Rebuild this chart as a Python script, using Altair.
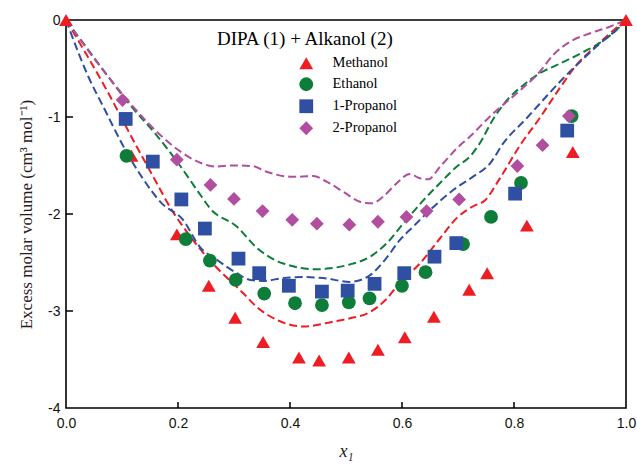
import altair as alt
import pandas as pd

# ---------------- data ----------------
series_names = ["Methanol", "Ethanol", "1-Propanol", "2-Propanol"]
series_colors = ["#EE1D23", "#0E7D3A", "#2F4FA2", "#B24E9F"]
series_shapes = ["triangle-up", "circle", "square", "diamond"]

# experimental points
meth_x = [0, 0.117, 0.198, 0.255, 0.302, 0.352, 0.416, 0.452, 0.505, 0.557, 0.605, 0.657, 0.720, 0.752, 0.823, 0.905, 1.0]
meth_y = [0, -1.40, -2.21, -2.74, -3.07, -3.32, -3.48, -3.51, -3.48, -3.40, -3.27, -3.06, -2.78, -2.61, -2.12, -1.36, 0]

eth_x = [0.108, 0.214, 0.257, 0.303, 0.354, 0.409, 0.457, 0.505, 0.542, 0.600, 0.642, 0.709, 0.759, 0.8125, 0.903]
eth_y = [-1.40, -2.26, -2.48, -2.68, -2.82, -2.92, -2.94, -2.91, -2.87, -2.74, -2.60, -2.31, -2.03, -1.68, -0.99]

prop1_x = [0.1066, 0.155, 0.206, 0.248, 0.308, 0.345, 0.398, 0.457, 0.503, 0.551, 0.604, 0.658, 0.697, 0.802, 0.895]
prop1_y = [-1.02, -1.46, -1.85, -2.15, -2.46, -2.61, -2.74, -2.80, -2.79, -2.72, -2.61, -2.44, -2.30, -1.79, -1.14]

prop2_x = [0.101, 0.198, 0.258, 0.300, 0.351, 0.404, 0.448, 0.506, 0.557, 0.608, 0.644, 0.702, 0.806, 0.851, 0.898]
prop2_y = [-0.825, -1.44, -1.70, -1.845, -1.97, -2.06, -2.10, -2.11, -2.08, -2.03, -1.97, -1.85, -1.505, -1.29, -0.99]

# model curves (dashed)
meth_lx = [0, 0.0696, 0.123, 0.159, 0.189, 0.209, 0.251, 0.317, 0.341, 0.376, 0.424, 0.477, 0.507, 0.543, 0.570,
           0.596, 0.632, 0.668, 0.698, 0.727, 0.748, 0.775, 0.811, 0.846, 0.882, 0.912, 0.942, 0.971, 1.0]
meth_ly = [0, -0.69, -1.27, -1.65, -1.96, -2.13, -2.44, -2.82, -2.96, -3.09, -3.16, -3.11, -3.075, -3.01, -2.89,
           -2.71, -2.51, -2.25, -2.04, -1.92, -1.86, -1.63, -1.29, -1.01, -0.70, -0.46, -0.29, -0.14, 0]

eth_lx = [0, 0.040, 0.0755, 0.117, 0.159, 0.2005, 0.242, 0.257, 0.305, 0.341, 0.388, 0.448, 0.471, 0.507, 0.543,
          0.573, 0.602, 0.638, 0.668, 0.698, 0.721, 0.739, 0.763, 0.787, 0.817, 0.846, 0.882, 0.924, 0.960, 0.989, 1.0]
eth_ly = [0, -0.31, -0.585, -0.894, -1.168, -1.477, -1.82, -1.94, -2.13, -2.35, -2.51, -2.57, -2.56, -2.52, -2.44,
          -2.30, -2.10, -1.86, -1.68, -1.51, -1.41, -1.27, -1.02, -0.83, -0.67, -0.55, -0.45, -0.33, -0.21, -0.07, 0]

prop1_lx = [0, 0.040, 0.0696, 0.0995, 0.135, 0.171, 0.209, 0.239, 0.269, 0.305, 0.329, 0.352, 0.388, 0.424, 0.459,
            0.507, 0.543, 0.570, 0.596, 0.620, 0.650, 0.692, 0.727, 0.757, 0.781, 0.823, 0.852, 0.882, 0.918, 0.954, 0.983, 1.0]
prop1_ly = [0, -0.585, -0.928, -1.27, -1.615, -1.89, -2.06, -2.34, -2.47, -2.61, -2.68, -2.69, -2.66, -2.65, -2.66,
            -2.70, -2.63, -2.47, -2.27, -2.13, -1.96, -1.75, -1.615, -1.48, -1.27, -1.01, -0.825, -0.636, -0.43, -0.24, -0.10, 0]

prop2_lx = [0, 0.052, 0.0995, 0.147, 0.2005, 0.242, 0.266, 0.296, 0.332, 0.358, 0.40, 0.418, 0.4416, 0.4655, 0.495,
            0.525, 0.546, 0.5666, 0.5905, 0.614, 0.632, 0.647, 0.668, 0.698, 0.721, 0.763, 0.805, 0.846, 0.870, 0.90,
            0.936, 0.971, 1.0]
prop2_ly = [0, -0.41, -0.756, -1.065, -1.34, -1.477, -1.51, -1.50, -1.505, -1.564, -1.615, -1.615, -1.608, -1.667, -1.77,
            -1.873, -1.89, -1.82, -1.683, -1.588, -1.632, -1.642, -1.512, -1.323, -1.203, -0.962, -0.756, -0.533, -0.361, -0.224,
            -0.137, -0.069, 0]

x_ticks = [0.0, 0.2, 0.4, 0.6, 0.8, 1.0]
y_ticks = [0, -1, -2, -3, -4]
x_inner_ticks = [0.2, 0.4, 0.6, 0.8]
y_inner_ticks = [-1, -2, -3]

# ---------------- tables ----------------
pts = []
for name, xs, ys in zip(series_names, [meth_x, eth_x, prop1_x, prop2_x], [meth_y, eth_y, prop1_y, prop2_y]):
    for a, b in zip(xs, ys):
        pts.append({"x": a, "y": b, "series": name})
pts_df = pd.DataFrame(pts)

lines = []
for name, xs, ys in zip(series_names, [meth_lx, eth_lx, prop1_lx, prop2_lx], [meth_ly, eth_ly, prop1_ly, prop2_ly]):
    for i, (a, b) in enumerate(zip(xs, ys)):
        lines.append({"x": a, "y": b, "series": name, "order": i})
lines_df = pd.DataFrame(lines)

xt_df = pd.DataFrame({"x": x_inner_ticks})
yt_df = pd.DataFrame({"y": y_inner_ticks})

W, H = 560, 388

x_enc = alt.X(
    "x:Q",
    scale=alt.Scale(domain=[0, 1], nice=False, zero=False),
    axis=alt.Axis(
        values=x_ticks, labelExpr="format(datum.value, '.1f')",
        title="x₁", titleFont="Liberation Serif", titleFontStyle="italic",
        titleFontSize=18, titleFontWeight="normal", titleColor="#222",
        titlePadding=12, ticks=False, domain=False, grid=False,
        labelFont="Liberation Sans", labelFontSize=14, labelColor="#111",
        labelPadding=8, labelFlush=False, labelOverlap=False,
    ),
)
y_enc = alt.Y(
    "y:Q",
    scale=alt.Scale(domain=[-4, 0], nice=False, zero=False),
    axis=alt.Axis(
        values=y_ticks, labelExpr="toString(datum.value)",
        title="Excess molar volume (cm³ mol⁻¹)", titleFont="Liberation Serif",
        titleFontSize=17, titleFontWeight="normal", titleColor="#2a1a1e",
        titlePadding=12, ticks=False, domain=False, grid=False,
        labelFont="Liberation Sans", labelFontSize=14, labelColor="#111",
        labelPadding=6, labelFlush=False, labelOverlap=False,
    ),
)

# dashed model curves: one layer per series, fixed colour (no colour scale)
line_layers = []
for k, (name, col) in enumerate(zip(series_names, series_colors)):
    line_layers.append(
        alt.Chart(lines_df).transform_filter(alt.datum.series == name)
        .mark_line(color=col, strokeWidth=2, strokeDash=[8, 4], interpolate="monotone")
        .encode(x=x_enc if k == 0 else "x:Q", y=y_enc if k == 0 else "y:Q", order="order:Q")
    )

legend = alt.Legend(
    title="DIPA (1) + Alkanol (2)", orient="none", legendX=151, legendY=10,
    titleFont="Liberation Serif", titleFontSize=19, titleFontWeight="normal", titleColor="#000",
    titleAnchor="start", titlePadding=7,
    labelFont="Liberation Serif", labelFontSize=14.5, labelFontWeight="normal", labelColor="#000",
    symbolOffset=82, labelOffset=19, rowPadding=6, symbolStrokeWidth=0, symbolOpacity=1,
    symbolSize=190,
)

point_layer = alt.Chart(pts_df).mark_point(filled=True, opacity=1, strokeWidth=0, size=190).encode(
    x="x:Q", y="y:Q",
    color=alt.Color("series:N", scale=alt.Scale(domain=series_names, range=series_colors), legend=legend),
    shape=alt.Shape("series:N", scale=alt.Scale(domain=series_names, range=series_shapes), legend=legend),
)

xtick_layer = alt.Chart(xt_df).mark_rule(color="#000", strokeWidth=1.5).encode(
    x="x:Q", y=alt.value(H), y2=alt.value(H - 6)
)
ytick_layer = alt.Chart(yt_df).mark_rule(color="#000", strokeWidth=1.5).encode(
    y="y:Q", x=alt.value(0), x2=alt.value(7)
)

chart = (
    alt.layer(*line_layers, point_layer, xtick_layer, ytick_layer)
    .properties(
        width=W, height=H,
        autosize=alt.AutoSizeParams(type="none"),
        padding={"left": 66, "top": 20, "right": 11, "bottom": 62},
        background="white",
    )
    .configure_view(stroke="#000", strokeWidth=1.6)
)

chart.save("out.html", embed_options={"renderer": "svg", "actions": False})
